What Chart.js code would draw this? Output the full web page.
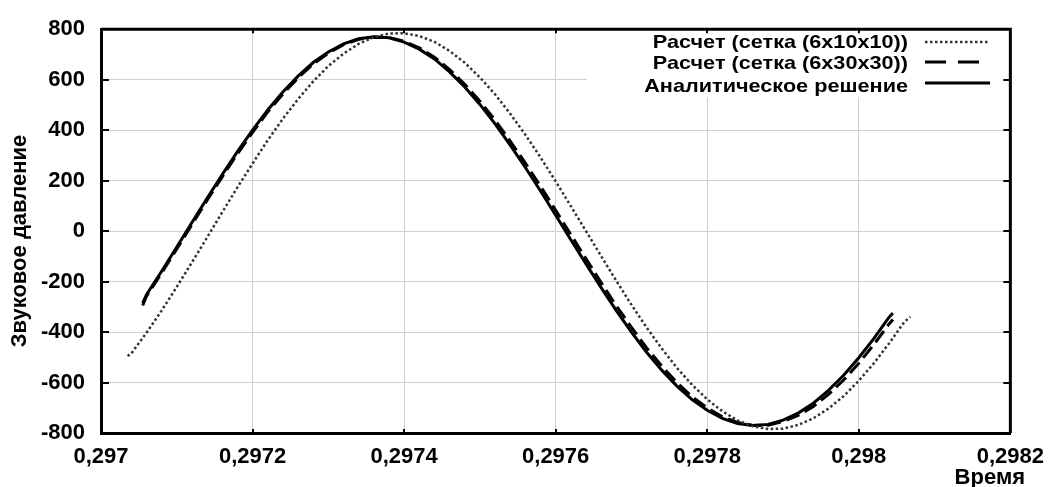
<!DOCTYPE html>
<html>
<head>
<meta charset="utf-8">
<script src="https://cdn.jsdelivr.net/npm/chart.js@4.4.1/dist/chart.umd.min.js"></script>
<style>
  html, body { margin: 0; padding: 0; background: #fff; }
  #wrap { width: 1055px; height: 487px; position: relative; }
</style>
</head>
<body>
<div id="wrap"><canvas id="myChart"></canvas></div>
<script>
let seriesNames = ['Расчет (сетка (6x10x10))', 'Расчет (сетка (6x30x30))', 'Аналитическое решение'];
let yTitle = 'Звуковое давление';
let xTitle = 'Время';

let xTicks = [0.297, 0.2972, 0.2974, 0.2976, 0.2978, 0.298, 0.2982];
let xTickLabels = ['0,297', '0,2972', '0,2974', '0,2976', '0,2978', '0,298', '0,2982'];

// grid 6x10x10 (dotted)
let timeCoarse = [0.297035, 0.29704, 0.29706, 0.29708, 0.2971, 0.29712, 0.29714, 0.29716, 0.29718, 0.2972,
  0.29722, 0.29724, 0.29726, 0.29728, 0.2973, 0.29732, 0.29734, 0.29736, 0.29738, 0.2974,
  0.29742, 0.29744, 0.29746, 0.29748, 0.2975, 0.29752, 0.29754, 0.29756, 0.29758, 0.2976,
  0.29762, 0.29764, 0.29766, 0.29768, 0.2977, 0.29772, 0.29774, 0.29776, 0.29778, 0.2978,
  0.29782, 0.29784, 0.29786, 0.29788, 0.2979, 0.29792, 0.29794, 0.29796, 0.29798, 0.298,
  0.29802, 0.29804, 0.29806, 0.298068];
let pressCoarse = [-495, -485, -403, -315, -221, -124, -25, 75, 173, 268,
  360, 445, 523, 593, 654, 703, 742, 768, 783, 784,
  773, 750, 714, 667, 609, 542, 465, 382, 292, 197,
  99, 0, -99, -197, -292, -382, -465, -542, -609, -667,
  -714, -750, -773, -784, -783, -768, -742, -703, -654, -593,
  -523, -445, -360, -340];

// grid 6x30x30 (dashed) and analytic (solid) share the time points
let timeFine = [0.297055, 0.29706, 0.29708, 0.2971, 0.29712, 0.29714, 0.29716, 0.29718, 0.2972, 0.29722,
  0.29724, 0.29726, 0.29728, 0.2973, 0.29732, 0.29734, 0.29736, 0.29738, 0.2974, 0.29742,
  0.29744, 0.29746, 0.29748, 0.2975, 0.29752, 0.29754, 0.29756, 0.29758, 0.2976, 0.29762,
  0.29764, 0.29766, 0.29768, 0.2977, 0.29772, 0.29774, 0.29776, 0.29778, 0.2978, 0.29782,
  0.29784, 0.29786, 0.29788, 0.2979, 0.29792, 0.29794, 0.29796, 0.29798, 0.298, 0.29802,
  0.29804, 0.298045];
let pressFine = [-295, -258, -166, -71, 26, 122, 215, 306, 391, 472,
  543, 607, 662, 705, 739, 760, 768, 767, 752, 726,
  689, 640, 582, 515, 440, 357, 269, 178, 82, -14,
  -110, -204, -296, -381, -463, -535, -600, -656, -701, -736,
  -758, -770, -769, -755, -730, -695, -647, -590, -524, -449,
  -368, -350];
let pressAnalytic = [-285, -252, -159, -63, 34, 130, 224, 315, 400, 480,
  551, 614, 668, 710, 742, 762, 770, 766, 749, 721,
  682, 631, 571, 502, 425, 341, 252, 159, 63, -34,
  -130, -224, -315, -400, -480, -551, -614, -668, -710, -742,
  -762, -770, -766, -749, -721, -682, -631, -571, -502, -425,
  -341, -325];

let fontFamily = "'Liberation Sans', Arial, sans-serif";

function toPoints(xs, ys) {
  let pts = [];
  for (let i = 0; i <= xs.length - 1; i++) {
    pts.push({x: xs[i], y: ys[i]});
  }
  return pts;
}

// legend, axis titles, frame and inward tick marks like in the original plot
let framePlugin = {
  id: 'frame',
  afterDraw(chart) {
    let ctx = chart.ctx;
    let area = chart.chartArea;
    let xs = chart.scales.x;
    let ys = chart.scales.y;
    ctx.save();
    ctx.fillStyle = '#000';
    ctx.font = 'bold 22px ' + fontFamily;

    // axis titles
    ctx.textAlign = 'right';
    ctx.textBaseline = 'alphabetic';
    ctx.fillText(xTitle, 1025, 484);
    ctx.save();
    ctx.translate(20, 241);
    ctx.rotate(-Math.PI / 2);
    ctx.textAlign = 'center';
    ctx.textBaseline = 'middle';
    ctx.fillText(yTitle, 0, 0);
    ctx.restore();

    // legend box
    ctx.fillStyle = '#fff';
    ctx.fillRect(587, area.top + 1, 418, 67);
    let rowsY = [48, 69.3, 91.5];
    let lineY = [42, 62, 83];
    let dashes = [[2.5, 2.5], [21, 12], []];
    let widths = [2.5, 3, 3];
    let colors = ['#333', '#000', '#000'];
    for (let i = 0; i < seriesNames.length; i++) {
      ctx.save();
      ctx.translate(908, rowsY[i]);
      ctx.scale(1.14, 1);
      ctx.font = 'bold 19px ' + fontFamily;
      ctx.textAlign = 'right';
      ctx.textBaseline = 'alphabetic';
      ctx.fillStyle = '#000';
      ctx.fillText(seriesNames[i], 0, 0);
      ctx.restore();
      ctx.beginPath();
      ctx.setLineDash(dashes[i]);
      ctx.lineWidth = widths[i];
      ctx.strokeStyle = colors[i];
      ctx.moveTo(925, lineY[i]);
      ctx.lineTo(990, lineY[i]);
      ctx.stroke();
    }
    ctx.setLineDash([]);

    // top and right border
    ctx.strokeStyle = '#000';
    ctx.lineWidth = 3;
    ctx.beginPath();
    ctx.moveTo(area.left, area.top);
    ctx.lineTo(area.right, area.top);
    ctx.lineTo(area.right, area.bottom);
    ctx.stroke();

    // tick marks pointing inward
    ctx.lineWidth = 2;
    ctx.beginPath();
    xs.ticks.forEach(function(t) {
      let px = Math.round(xs.getPixelForValue(t.value));
      ctx.moveTo(px, area.top);
      ctx.lineTo(px, area.top + 4);
      ctx.moveTo(px, area.bottom);
      ctx.lineTo(px, area.bottom - 4);
    });
    ys.ticks.forEach(function(t) {
      let py = Math.round(ys.getPixelForValue(t.value));
      ctx.moveTo(area.left, py);
      ctx.lineTo(area.left + 8, py);
      ctx.moveTo(area.right, py);
      ctx.lineTo(area.right - 7, py);
    });
    ctx.stroke();
    ctx.restore();
  }
};

let ctx = document.getElementById('myChart').getContext('2d');
let myChart = new Chart(ctx, {
  type: 'scatter',
  data: {
    datasets: [{
      label: seriesNames[0],
      data: toPoints(timeCoarse, pressCoarse),
      showLine: true,
      borderColor: '#333',
      borderWidth: 2.5,
      borderDash: [2.5, 2.5],
      pointRadius: 0,
      tension: 0,
    }, {
      label: seriesNames[1],
      data: toPoints(timeFine, pressFine),
      showLine: true,
      borderColor: '#000',
      borderWidth: 3,
      borderDash: [14, 6],
      pointRadius: 0,
      tension: 0,
    }, {
      label: seriesNames[2],
      data: toPoints(timeFine, pressAnalytic),
      showLine: true,
      borderColor: '#000',
      borderWidth: 3,
      pointRadius: 0,
      tension: 0,
    }],
  },
  options: {
    responsive: true,
    maintainAspectRatio: false,
    animation: false,
    layout: {
      padding: {top: 27, right: 35, left: 0, bottom: 0},
    },
    plugins: {
      legend: {display: false},
      tooltip: {enabled: false},
    },
    scales: {
      x: {
        type: 'linear',
        min: 0.297,
        max: 0.2982,
        afterBuildTicks: function(scale) {
          scale.ticks = xTicks.map(function(v) { return {value: v}; });
        },
        afterFit: function(scale) {
          scale.height = 54;
        },
        ticks: {
          autoSkip: false,
          maxRotation: 0,
          padding: 11,
          color: '#000',
          font: {family: fontFamily, size: 22, weight: 'bold'},
          callback: function(value, index) {
            return xTickLabels[index];
          },
        },
        grid: {color: '#cfcfcf', lineWidth: 1, drawTicks: false},
        border: {color: '#000', width: 3},
      },
      y: {
        min: -800,
        max: 800,
        afterFit: function(scale) {
          scale.width = 101;
        },
        ticks: {
          stepSize: 200,
          padding: 16,
          color: '#000',
          font: {family: fontFamily, size: 22, weight: 'bold'},
        },
        grid: {color: '#cfcfcf', lineWidth: 1, drawTicks: false},
        border: {color: '#000', width: 3},
      },
    },
  },
  plugins: [framePlugin],
});
</script>
</body>
</html>
